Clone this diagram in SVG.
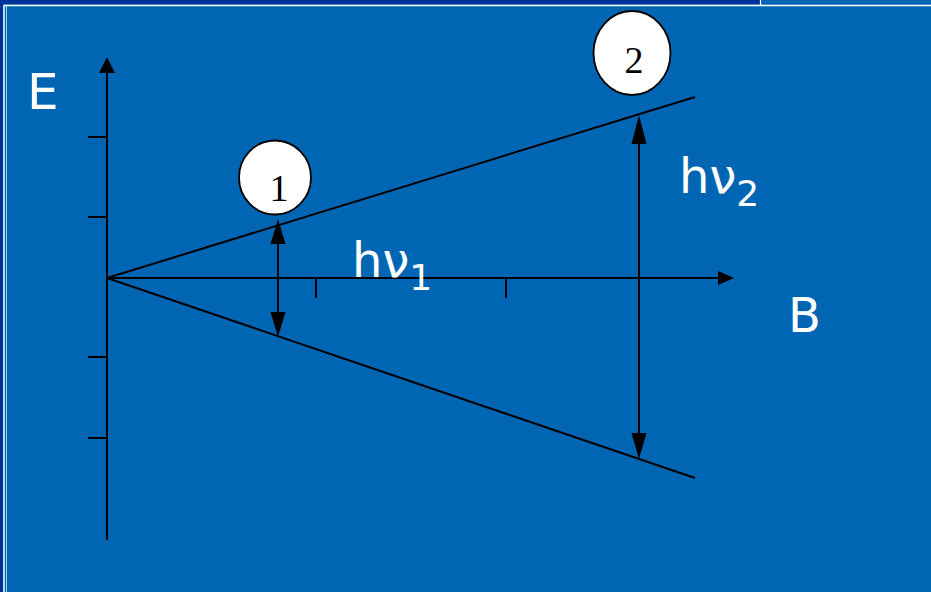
<svg xmlns="http://www.w3.org/2000/svg" width="931" height="592" viewBox="0 0 931 592">
<style>
.ln{stroke:#000;stroke-width:2;fill:none}
.hd{fill:#000;stroke:none}
.lbl{font-family:"DejaVu Sans",Verdana,sans-serif;fill:#fff}
.num{font-family:"Liberation Serif","Times New Roman",serif;font-size:38px;fill:#000;text-anchor:middle}
.circ{fill:#fff;stroke:#000;stroke-width:1.8}
</style>
<rect x="0" y="0" width="931" height="592" fill="#0066b3"/>
<rect x="0" y="0" width="760" height="4" fill="#003399"/>
<rect x="0" y="0" width="3" height="592" fill="#003399"/>
<line x1="4" y1="5.5" x2="931" y2="5.5" stroke="#fff" stroke-width="1.5"/>
<line x1="4" y1="5" x2="4" y2="592" stroke="#fff" stroke-width="1.5"/>
<line x1="6.5" y1="6" x2="6.5" y2="592" stroke="#cfe0f5" stroke-width="0.8"/>
<line x1="760.5" y1="0" x2="760.5" y2="5" stroke="#fff" stroke-width="1.2"/>

<g id="connectors">
  <line class="ln" x1="107" y1="540" x2="107" y2="70"/>
  <polygon class="hd" points="107,57 99,73 115,73"/>
  <line class="ln" x1="107" y1="278" x2="720" y2="278"/>
  <polygon class="hd" points="734,278 718,271 718,285"/>
  <line class="ln" x1="88" y1="137" x2="107" y2="137"/>
  <line class="ln" x1="88" y1="217" x2="107" y2="217"/>
  <line class="ln" x1="88" y1="357" x2="107" y2="357"/>
  <line class="ln" x1="88" y1="438" x2="107" y2="438"/>
  <line class="ln" x1="316" y1="278" x2="316" y2="298"/>
  <line class="ln" x1="506" y1="278" x2="506" y2="298"/>
  <line class="ln" x1="107" y1="278" x2="695" y2="97"/>
  <line class="ln" x1="107" y1="278" x2="695" y2="478"/>
  <line class="ln" x1="278" y1="240" x2="278" y2="316"/>
  <polygon class="hd" points="278,219 270.5,244 285.5,244"/>
  <polygon class="hd" points="278,337 270.5,312 285.5,312"/>
  <line class="ln" x1="639" y1="140" x2="639" y2="437"/>
  <polygon class="hd" points="639,115 631.5,144 646.5,144"/>
  <polygon class="hd" points="639,459 631.5,433 646.5,433"/>
</g>

<g id="node1">
  <ellipse class="circ" cx="275" cy="177.5" rx="36" ry="37"/>
  <text class="num" x="279" y="201">1</text>
</g>
<g id="node2">
  <ellipse class="circ" cx="632" cy="53" rx="38.5" ry="42"/>
  <text class="num" x="634" y="73">2</text>
</g>

<g id="labels">
  <text class="lbl" x="27" y="109" font-size="50">E</text>
  <text class="lbl" x="788" y="332" font-size="48">B</text>
  <text class="lbl" x="352" y="277" font-size="48">hν<tspan font-size="36" dy="13">1</tspan></text>
  <text class="lbl" x="679" y="193" font-size="48">hν<tspan font-size="36" dy="13">2</tspan></text>
</g>
</svg>
